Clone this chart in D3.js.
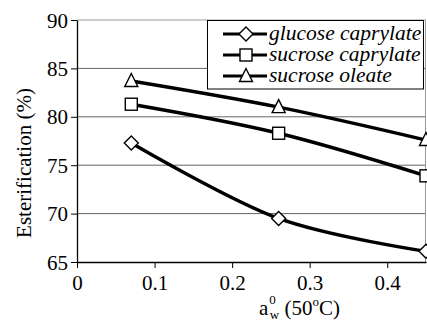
<!DOCTYPE html>
<html>
<head>
<meta charset="UTF-8">
<script src="https://d3js.org/d3.v7.min.js"></script>
</head>
<body style="margin:0">
<svg id="chart" width="427" height="325"></svg>
<script>
    const aw = [0.07, 0.26, 0.45];
    const seriesNames = ["glucose caprylate", "sucrose caprylate", "sucrose oleate"];
    const glucoseCaprylate = [77.3, 69.5, 66.1];
    const sucroseCaprylate = [81.3, 78.3, 73.9];
    const sucroseOleate = [83.7, 81.0, 77.6];
    const markers = ["diamond", "square", "triangle"];
    const xTicks = [0, 0.1, 0.2, 0.3, 0.4];
    const yTicks = [65, 70, 75, 80, 85, 90];

    const serif = "Liberation Serif";

    const series = [glucoseCaprylate, sucroseCaprylate, sucroseOleate].map((vals, i) => ({
        name: seriesNames[i],
        marker: markers[i],
        points: vals.map((v, j) => ({ x: aw[j], y: v }))
    }));

    const margin = { top: 20, right: 1, bottom: 63, left: 77 };
    const width = 427, height = 325;
    const svg = d3.select("#chart").attr("font-family", serif);

    const x = d3.scaleLinear().domain([0, 0.45]).range([margin.left, width - margin.right]);
    const y = d3.scaleLinear().domain([65, 90]).range([height - margin.bottom, margin.top]);

    // grid lines
    svg.append("g").selectAll("line").data(yTicks.filter(t => t > 65)).join("line")
        .attr("x1", x(0)).attr("x2", x(0.45))
        .attr("y1", d => y(d)).attr("y2", d => y(d))
        .attr("stroke", d => d === 90 ? "#999" : "#666").attr("stroke-width", 1);

    // right border
    svg.append("line")
        .attr("x1", x(0.45) - 0.5).attr("x2", x(0.45) - 0.5)
        .attr("y1", y(90)).attr("y2", y(65))
        .attr("stroke", "#999");

    const yAxis = svg.append("g")
        .attr("transform", `translate(${x(0)},0)`)
        .call(d3.axisLeft(y).tickValues(yTicks).tickSize(6).tickSizeOuter(0).tickPadding(3));
    yAxis.attr("font-family", serif).attr("font-size", 21);
    yAxis.select(".domain").attr("stroke", "#000").attr("stroke-width", 1.3);
    yAxis.selectAll("text").attr("font-family", serif).attr("font-size", 21).attr("dy", "0.34em");

    const xAxis = svg.append("g")
        .attr("transform", `translate(0,${y(65)})`)
        .call(d3.axisBottom(x).tickValues(xTicks).tickFormat(d => d === 0 ? "0" : d3.format(".1f")(d)).tickSize(6).tickSizeOuter(0));
    xAxis.attr("font-family", serif).attr("font-size", 21);
    xAxis.select(".domain").attr("stroke", "#000").attr("stroke-width", 1.3);
    xAxis.selectAll("text").attr("font-family", serif).attr("font-size", 21).attr("dy", "0.9em");

    // lines
    const line = d3.line().x(d => x(d.x)).y(d => y(d.y)).curve(d3.curveCardinal.tension(0));
    svg.append("g").selectAll("path").data(series).join("path")
        .attr("d", d => line(d.points))
        .attr("fill", "none").attr("stroke", "#000").attr("stroke-width", 3.4);

    function drawMarker(sel, type, cx, cy) {
        const s = 6;
        if (type === "diamond") {
            sel.append("path").attr("d", `M${cx},${cy - 7}L${cx + 7},${cy}L${cx},${cy + 7}L${cx - 7},${cy}Z`);
        } else if (type === "square") {
            sel.append("rect").attr("x", cx - s).attr("y", cy - s).attr("width", 2 * s).attr("height", 2 * s);
        } else {
            sel.append("path").attr("d", `M${cx},${cy - 7.5}L${cx + 6.5},${cy + 5.5}L${cx - 6.5},${cy + 5.5}Z`);
        }
    }

    const markG = svg.append("g").attr("fill", "#fff").attr("stroke", "#000").attr("stroke-width", 1.4);
    series.forEach(s => s.points.forEach(p => drawMarker(markG, s.marker, x(p.x), y(p.y))));

    // legend
    const lg = svg.append("g");
    lg.append("rect").attr("x", 207.5).attr("y", 20.5).attr("width", 216).attr("height", 68.5)
        .attr("fill", "#fff").attr("stroke", "#000").attr("stroke-width", 1);
    series.forEach((s, i) => {
        const ly = 34 + i * 21;
        lg.append("line").attr("x1", 223).attr("x2", 267).attr("y1", ly).attr("y2", ly)
            .attr("stroke", "#000").attr("stroke-width", 3);
        const mg = lg.append("g").attr("fill", "#fff").attr("stroke", "#000").attr("stroke-width", 1.4);
        drawMarker(mg, s.marker, 246, ly);
        lg.append("text").attr("x", 269).attr("y", ly + 6)
            .attr("font-family", serif).attr("font-size", 21.5).attr("font-style", "italic")
            .text(s.name);
    });

    // axis titles
    svg.append("text")
        .attr("transform", `translate(31,163) rotate(-90)`)
        .attr("text-anchor", "middle")
        .attr("font-family", serif).attr("font-size", 21)
        .text("Esterification (%)");

    const xt = svg.append("text").attr("x", 259).attr("y", 315)
        .attr("font-family", serif).attr("font-size", 21);
    xt.append("tspan").text("a");
    xt.append("tspan").attr("font-size", 13).attr("dy", -11).attr("dx", 1).text("0");
    xt.append("tspan").attr("font-size", 13).attr("dy", 15).attr("dx", -6).text("w");
    xt.append("tspan").attr("dy", -4).text(" (50");
    xt.append("tspan").attr("font-size", 13).attr("dy", -9).text("o");
    xt.append("tspan").attr("dy", 9).text("C)");
</script>
</body>
</html>
